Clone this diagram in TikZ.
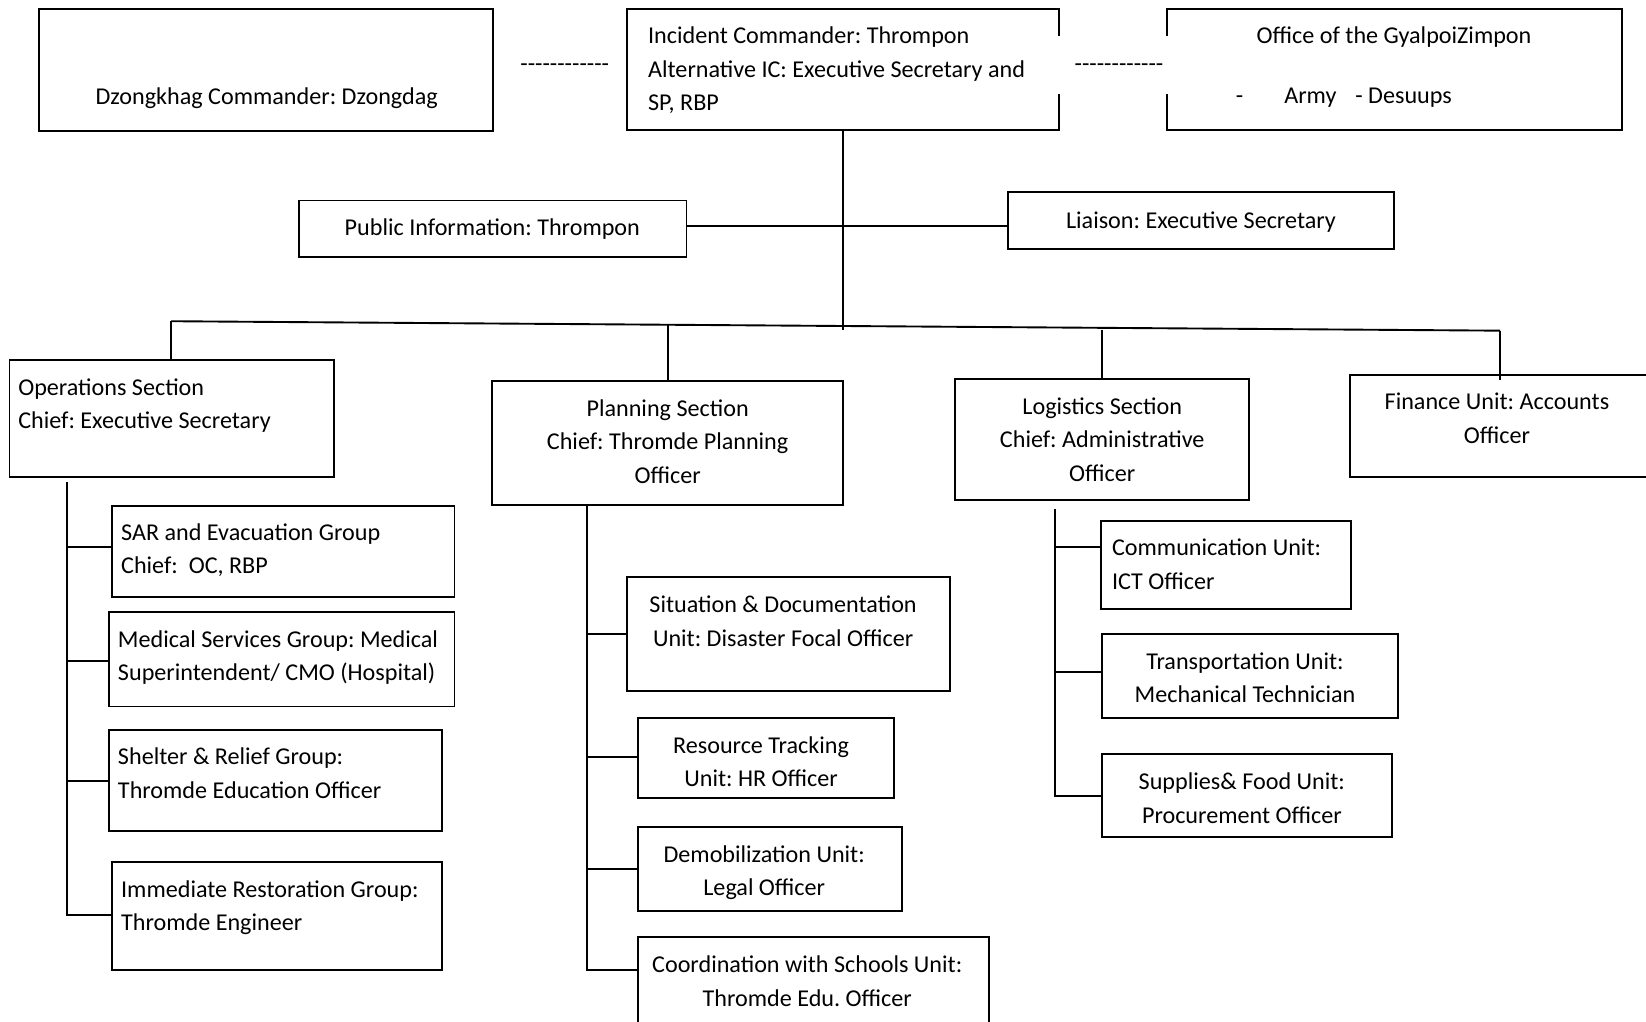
\documentclass[tikz,border=0pt]{standalone}
\usepackage{fontspec}
\setmainfont{Carlito}
\newfontfamily\dashfont{Carlito}
\usetikzlibrary{fit}
\tikzset{
  box/.style={draw, line width=0.9pt, inner sep=0pt, rectangle},
  txt/.style={inner sep=0pt, yshift=-0.75pt, font=\fontsize{11.5pt}{16pt}\selectfont\frenchspacing},
  ltxt/.style={txt, align=left, anchor=base west},
  ctxt/.style={txt, align=center, anchor=base},
  ln/.style={line width=0.9pt},
}
\newcommand\mydashes{{\dashfont -\kern0pt-\kern0pt-\kern0pt-\kern0pt-\kern0pt-\kern0pt-\kern0pt-\kern0pt-\kern0pt-\kern0pt-\kern0pt-}}
\begin{document}
\frenchspacing
\begin{tikzpicture}[x=0.5pt, y=-0.5pt]
\useasboundingbox (0,0) rectangle (1568,972.7);
\clip (0,0) rectangle (1568,972.7);

% (multi-line texts are placed by the baseline of their last line)

% ---------- top row ----------
\node[box, fit={(37,9) (470,125)}] (dz) {};
\node[ctxt] (dzT) at (254,98) {Dzongkhag Commander: Dzongdag};
\node[txt, anchor=center] (dashL) at (538,63) {\mydashes};

\node[box, fit={(597,9) (1009,124)}] (ic) {};
\node[ltxt] (icT) at (617,104) {Incident Commander: Thrompon\\Alternative IC: Executive Secretary and\\SP, RBP};

\node[box, fit={(1112,9) (1545,124)}] (gz) {};
\node[ctxt] (gzT) at (1328,40) {Office of the GyalpoiZimpon};
\node[ltxt] (gzT2) at (1177,97) {-\hspace{19.5pt}Army\hspace{9pt}- Desuups};

\node[fill=white, inner sep=0pt, minimum width=55.5pt, minimum height=28pt, anchor=center] (dashGap) at (1060.5,62) {};
\node[txt, anchor=center] (dashR) at (1066,63) {\mydashes};

% ---------- staff ----------
\node[box, fit={(285,191) (654,245)}] (pi) {};
\node[ctxt] (piT) at (469,223) {Public Information: Thrompon};
\node[box, fit={(960,183) (1328,237)}] (li) {};
\node[ctxt] (liT) at (1144,216) {Liaison: Executive Secretary};

\coordinate (icEnd) at (803,314);
\draw[ln] (ic.south) -- (icEnd);
\coordinate (piR) at (654,215);
\coordinate (liL) at (960,215);
\draw[ln] (piR) -- (liL);

% ---------- sections ----------
\node[box, fit={(9,343) (318,454)}] (ops) {};
\node[ltxt] (opsT) at (17,407) {Operations Section\\Chief: Executive Secretary};

\node[box, fit={(469,363) (803,481)}] (plan) {};
\node[ctxt] (planT) at (636,459) {Planning Section\\Chief: Thromde Planning\\Officer};

\node[box, fit={(910,361) (1190,476)}] (log) {};
\node[ctxt] (logT) at (1050,457) {Logistics Section\\Chief: Administrative\\Officer};

\node[box, fit={(1286,357) (1590,454)}] (fin) {};
\node[ctxt] (finT) at (1426,421) {Finance Unit: Accounts\\Officer};

\coordinate (hL) at (163,306);
\coordinate (hP) at (636,310);
\coordinate (hG) at (1050,314);
\coordinate (hR) at (1429,315);
\coordinate (finIn) at (1429,362);
\draw[ln] (hL) -- (hR);
\draw[ln] (hL) -- (hL |- ops.north);
\draw[ln] (hP) -- (plan.north);
\draw[ln] (hG) -- (log.north);
\draw[ln] (hR) -- (finIn);

% ---------- operations groups ----------
\node[box, fit={(107,482) (433,569)}] (sar) {};
\node[ltxt] (sarT) at (115,545) {SAR and Evacuation Group\\Chief:\ \ OC, RBP};
\node[box, fit={(104,583) (433,673)}] (med) {};
\node[ltxt] (medT) at (112,647) {Medical Services Group: Medical\\Superintendent/ CMO (Hospital)};
\node[box, fit={(104,695) (421,792)}] (she) {};
\node[ltxt] (sheT) at (112,759) {Shelter \& Relief Group:\\Thromde Education Officer};
\node[box, fit={(107,821) (421,924)}] (imm) {};
\node[ltxt] (immT) at (115,885) {Immediate Restoration Group:\\Thromde Engineer};

\coordinate (oTop) at (64,459);
\coordinate (o1) at (64,521);
\coordinate (o2) at (64,630);
\coordinate (o3) at (64,744);
\coordinate (o4) at (64,872);
\draw[ln] (oTop) -- (o4) -- (o4 -| imm.west);
\draw[ln] (o1) -- (o1 -| sar.west);
\draw[ln] (o2) -- (o2 -| med.west);
\draw[ln] (o3) -- (o3 -| she.west);

% ---------- planning units ----------
\node[box, fit={(597,550) (905,658)}] (sit) {};
\node[ctxt] (sitT) at (746,614) {Situation \& Documentation\\Unit: Disaster Focal Officer};
\node[box, fit={(608,684) (852,760)}] (res) {};
\node[ctxt] (resT) at (725,748) {Resource Tracking\\Unit: HR Officer};
\node[box, fit={(608,788) (859,868)}] (dem) {};
\node[ctxt] (demT) at (728,852) {Demobilization Unit:\\Legal Officer};
\node[box, fit={(608,893) (942,1000)}] (coo) {};
\node[ctxt] (cooT) at (769,957) {Coordination with Schools Unit:\\Thromde Edu. Officer};

\coordinate (p1) at (559,604);
\coordinate (p2) at (559,721);
\coordinate (p3) at (559,828);
\coordinate (p4) at (559,924);
\draw[ln] (plan.south -| p1) -- (p4) -- (p4 -| coo.west);
\draw[ln] (p1) -- (p1 -| sit.west);
\draw[ln] (p2) -- (p2 -| res.west);
\draw[ln] (p3) -- (p3 -| dem.west);

% ---------- logistics units ----------
\node[box, fit={(1049,496) (1287,580)}] (com) {};
\node[ltxt] (comT) at (1059,560) {Communication Unit:\\ICT Officer};
\node[box, fit={(1050,604) (1332,684)}] (tra) {};
\node[ctxt] (traT) at (1186,668) {Transportation Unit:\\Mechanical Technician};
\node[box, fit={(1050,718) (1326,797)}] (sup) {};
\node[ctxt] (supT) at (1183,783) {Supplies\& Food Unit:\\Procurement Officer};

\coordinate (gTop) at (1005,485);
\coordinate (g1) at (1005,521);
\coordinate (g2) at (1005,640);
\coordinate (g3) at (1005,758);
\draw[ln] (gTop) -- (g3) -- (g3 -| sup.west);
\draw[ln] (g1) -- (g1 -| com.west);
\draw[ln] (g2) -- (g2 -| tra.west);
\end{tikzpicture}
\end{document}
